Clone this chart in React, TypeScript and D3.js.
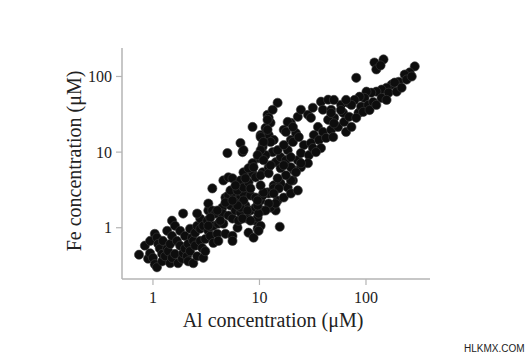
import React from 'react';
import * as d3 from 'd3';

// Al vs Fe concentration (µM)
const lowerCluster: [number, number][] = [
  [0.74, 0.44], [0.84, 0.58], [0.9, 0.39], [0.94, 0.67], [0.94, 0.46], [1.0, 0.4],
  [1.04, 0.83], [1.09, 0.74], [1.04, 0.33], [1.09, 0.3], [1.12, 0.61], [1.16, 0.53],
  [1.22, 0.36], [1.22, 0.45], [1.24, 0.67], [1.3, 0.42], [1.36, 0.53], [1.36, 0.91],
  [1.39, 0.49], [1.45, 0.61], [1.45, 0.34], [1.51, 1.24], [1.51, 0.78], [1.51, 0.4],
  [1.61, 1.06], [1.61, 0.45], [1.68, 0.67], [1.72, 0.34], [1.8, 0.91], [1.8, 0.58],
  [1.88, 0.39], [1.92, 1.54], [1.92, 0.46], [2.0, 0.78], [2.0, 0.53], [2.09, 0.42],
  [2.14, 0.36], [2.14, 0.61], [2.23, 0.49], [2.23, 0.97], [2.33, 0.74], [2.39, 0.67],
  [2.39, 0.34], [2.49, 0.86], [2.49, 0.58], [2.6, 1.06], [2.6, 0.42], [2.78, 1.32],
  [2.78, 0.97], [2.78, 0.67], [2.9, 0.54], [2.97, 0.4], [2.97, 1.06], [3.1, 0.71],
  [3.1, 0.49], [3.24, 1.24], [3.31, 0.91], [3.31, 1.69], [3.31, 2.09], [3.45, 0.78],
  [3.61, 3.31], [3.61, 1.69], [3.69, 0.63], [3.69, 1.06], [3.85, 1.54], [4.02, 0.83],
  [4.11, 1.13], [4.11, 0.67], [4.49, 1.85], [4.49, 1.54], [4.58, 1.13], [4.79, 2.51],
  [4.79, 0.83], [5.11, 2.67], [5.11, 1.45], [5.34, 1.97], [5.58, 1.32], [5.58, 0.78],
  [5.58, 0.67], [5.7, 2.84], [5.95, 1.69], [6.08, 2.29], [6.22, 1.0], [6.35, 1.24],
  [6.63, 1.59], [6.63, 2.67], [6.93, 2.09], [7.08, 2.84], [7.39, 1.97], [7.72, 3.41],
  [7.72, 1.32], [7.89, 0.86], [8.24, 1.69], [8.24, 2.67], [8.8, 0.74], [9.19, 1.24],
  [9.6, 0.97], [10.25, 2.29], [11.9, 2.93], [13.6, 3.63], [14.2, 1.69], [15.5, 1.03],
  [4.79, 2.15], [4.02, 1.69], [3.45, 1.36], [2.6, 1.54], [3.31, 1.06], [4.29, 1.24],
  [6.63, 1.85], [7.72, 1.69], [6.93, 1.32], [9.6, 1.36], [9.19, 1.85], [10.9, 1.69],
  [12.7, 1.85], [14.8, 2.29], [16.9, 2.51], [10.25, 1.06], [8.24, 1.24], [14.2, 2.09],
  [12.2, 2.09], [11.4, 1.69], [9.81, 1.54], [9.6, 1.97], [9.19, 2.51], [9.81, 0.91],
];

const upperBranch: [number, number][] = [
  [4.58, 4.22], [5.11, 4.64], [5.58, 4.5], [8.61, 5.24], [7.08, 5.41], [5.0, 9.7],
  [6.63, 13.2], [6.93, 10.0], [8.61, 21.5], [10.25, 16.8], [10.7, 12.4], [11.9, 31.1],
  [12.7, 24.4], [12.2, 16.8], [13.6, 14.5], [13.3, 10.0], [11.4, 9.12], [9.81, 8.31],
  [8.61, 7.13], [7.89, 6.12], [6.63, 4.22], [5.34, 3.11], [6.22, 3.11], [7.08, 3.41],
  [7.89, 3.98], [9.19, 4.64], [10.7, 5.41], [12.2, 6.31], [14.2, 7.35], [15.8, 8.58],
  [14.8, 44.9], [13.3, 36.3], [12.2, 28.4], [11.4, 20.9], [10.25, 15.8], [10.7, 11.7],
  [12.7, 13.6], [14.8, 10.6], [11.9, 26.7], [11.9, 19.7], [10.9, 13.6], [7.08, 10.6],
  [10.25, 10.6], [9.6, 9.12], [8.8, 6.31], [10.25, 4.93], [12.2, 5.24], [12.7, 6.7],
  [10.9, 7.82], [15.8, 6.12], [5.95, 3.63], [7.39, 4.5], [8.24, 3.31],
];

const lowerBranch: [number, number][] = [
  [18.4, 10.6], [19.7, 14.5], [16.9, 19.7], [19.7, 24.4], [22.9, 29.3], [22.0, 17.9],
  [22.9, 7.82], [21.0, 5.75], [20.6, 4.22], [18.4, 3.41], [15.8, 3.86], [13.6, 3.31],
  [12.2, 2.84], [10.7, 2.67], [9.6, 2.29], [7.08, 2.29], [6.22, 1.97], [5.58, 2.29],
  [19.7, 2.84], [22.9, 3.11], [16.9, 12.4], [18.4, 25.1], [17.7, 18.5], [20.6, 21.5],
  [20.6, 13.6], [23.4, 15.8], [24.5, 36.3], [28.5, 31.1], [31.7, 38.6], [30.4, 28.4],
  [35.4, 21.5], [32.4, 16.8], [37.8, 46.4], [44.1, 49.3], [39.4, 36.3], [47.1, 36.3],
  [50.3, 28.4], [58.4, 42.3], [68.0, 44.9], [61.0, 33.1], [44.1, 26.7], [39.4, 18.5],
  [47.1, 19.7], [54.6, 21.5], [62.3, 25.1], [69.5, 29.3], [26.1, 12.4], [30.4, 13.2],
  [36.2, 14.5], [42.2, 15.4], [49.2, 15.8], [24.5, 9.7], [29.1, 9.12], [31.7, 11.3],
  [17.7, 7.82], [19.7, 8.58], [19.7, 6.31], [24.5, 6.31], [28.5, 7.13], [22.0, 5.41],
  [19.7, 4.22], [15.2, 3.31], [13.6, 2.84], [10.9, 2.93], [10.25, 3.63], [24.5, 7.13],
  [17.7, 4.93], [16.9, 6.7], [14.8, 4.5], [37.8, 11.3], [33.9, 10.0],
];

const topEnd: [number, number][] = [
  [120, 153], [146, 168], [125, 124], [137, 140], [81, 96], [287, 136], [257, 113],
  [231, 106], [203, 85], [174, 78], [156, 71], [140, 67], [125, 63], [112, 61], [101, 63],
  [97, 52], [87, 54], [78, 49], [73, 42], [65, 49], [58, 36], [50, 49], [47, 33], [50, 24],
  [85, 33], [90, 40], [105, 42], [117, 46], [140, 52], [163, 61], [186, 83], [65, 18.5],
  [73, 21.5], [81, 28.4], [94, 34], [108, 36], [125, 42], [156, 49], [194, 63], [216, 71],
  [241, 91], [269, 100],
];

const allPoints = [...lowerCluster, ...upperBranch, ...lowerBranch, ...topEnd];

const xTicks = [1, 10, 100];
const yTicks = [1, 10, 100];
const xDomain = [0.512, 399];
const yDomain = [0.21, 238];
const xTitle = 'Al concentration (\u03bcM)';
const yTitle = 'Fe concentration (\u03bcM)';

const W = 532;
const H = 357;
const left = 122, right = 430, top = 48, bottom = 279;
const serif = '"Liberation Serif", "Times New Roman", serif';

export default function App() {
  const x = d3.scaleLog().domain(xDomain).range([left, right]);
  const y = d3.scaleLog().domain(yDomain).range([bottom, top]);
  const axisColor = '#b4b4b4';

  return (
    <svg width={W} height={H} style={{ position: 'absolute', left: 0, top: 0, background: '#fff' }}>
      {/* axes */}
      <line x1={left} x2={left} y1={top} y2={bottom} stroke={axisColor} strokeWidth={1.5} />
      <line x1={left} x2={right} y1={bottom} y2={bottom} stroke={axisColor} strokeWidth={1.5} />
      {xTicks.map(t => (
        <g key={'x' + t}>
          <line x1={x(t)} x2={x(t)} y1={bottom} y2={bottom + 6} stroke={axisColor} strokeWidth={1.2} />
          <text x={x(t)} y={bottom + 24} textAnchor="middle" fontFamily={serif} fontSize={16} fill="#222">{t}</text>
        </g>
      ))}
      {yTicks.map(t => (
        <g key={'y' + t}>
          <line x1={left - 6} x2={left} y1={y(t)} y2={y(t)} stroke={axisColor} strokeWidth={1.2} />
          <text x={left - 10} y={y(t)} dy="0.35em" textAnchor="end" fontFamily={serif} fontSize={16} fill="#222">{t}</text>
        </g>
      ))}
      <text x={273} y={327} textAnchor="middle" fontFamily={serif} fontSize={20} fill="#222">{xTitle}</text>
      <text transform="translate(81,161) rotate(-90)" textAnchor="middle" fontFamily={serif} fontSize={20} fill="#222">{yTitle}</text>

      {/* points */}
      {allPoints.map((d, i) => (
        <circle key={i} cx={x(d[0])} cy={y(d[1])} r={4.6} fill="#0d0d0d" stroke="#3a3a3a" strokeWidth={0.6} />
      ))}

      <text x={464} y={352} fontFamily="Arial, 'Liberation Sans', sans-serif" fontSize={10} fill="#222">HLKMX.COM</text>
    </svg>
  );
}
